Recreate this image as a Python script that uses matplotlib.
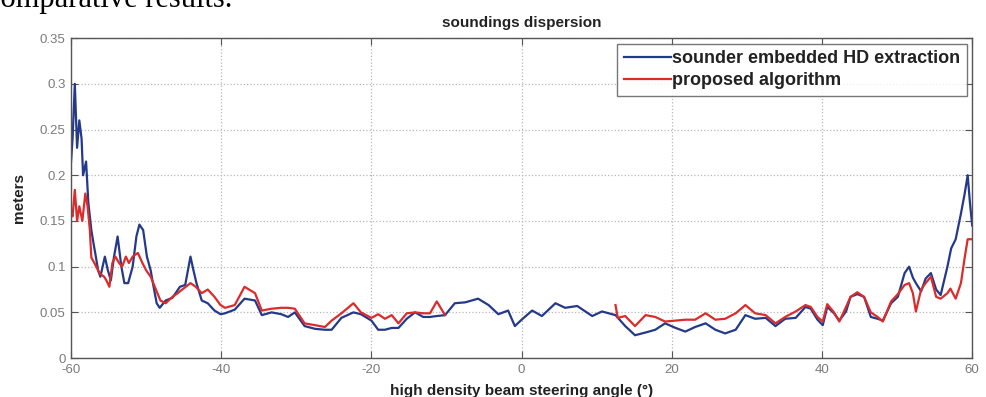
import matplotlib.pyplot as plt
import numpy as np

# beam angle (deg) and dispersion (m) for the sounder's own HD extraction
blue_angle = [-60.0, -59.8, -59.5, -59.2, -58.9, -58.6, -58.4, -58.0, -57.7, -57.3,
              -57.0, -56.7, -56.4, -56.1, -55.8, -55.5, -55.1, -54.7, -54.3, -53.8,
              -53.3, -52.9, -52.4, -51.8, -51.3, -50.9, -50.4, -49.9, -49.4, -49.1,
              -48.6, -48.2, -47.4, -46.5, -45.5, -44.8, -44.1, -43.7, -43.3, -42.6,
              -41.8, -40.9, -40.1, -39.5, -38.2, -36.9, -35.5, -34.6, -33.3, -32.0,
              -31.1, -30.2, -28.9, -27.5, -26.2, -25.3, -24.0, -22.4, -21.4, -20.0,
              -19.1, -18.2, -17.3, -16.4, -15.3, -14.2, -13.1, -12.2, -11.3, -10.2,
              -8.9, -7.5, -5.8, -4.4, -3.1, -1.8, -0.9, 0.0, 1.4, 2.7,
              4.5, 5.8, 7.4, 8.3, 9.4, 10.7, 12.5, 13.8, 15.1, 16.5,
              17.8, 19.1, 20.5, 21.8, 23.1, 24.5, 25.8, 27.1, 28.5, 29.8,
              31.1, 32.5, 33.8, 35.1, 36.5, 37.8, 38.5, 39.4, 40.1, 40.7,
              41.6, 42.3, 43.2, 43.8, 44.7, 45.6, 46.5, 47.4, 48.1, 49.2,
              50.1, 51.0, 51.6, 52.1, 52.5, 53.2, 53.8, 54.5, 55.2, 55.8,
              56.7, 57.2, 57.8, 58.5, 59.0, 59.4, 59.7, 60.0]
blue_disp = [0.215, 0.240, 0.300, 0.230, 0.260, 0.240, 0.200, 0.215, 0.170, 0.140,
             0.125, 0.111, 0.096, 0.089, 0.100, 0.111, 0.096, 0.085, 0.110, 0.133,
             0.100, 0.082, 0.082, 0.100, 0.133, 0.146, 0.140, 0.111, 0.096, 0.082,
             0.060, 0.055, 0.063, 0.066, 0.078, 0.080, 0.111, 0.096, 0.082, 0.063,
             0.060, 0.052, 0.048, 0.049, 0.053, 0.065, 0.063, 0.047, 0.050, 0.048,
             0.045, 0.050, 0.035, 0.032, 0.031, 0.031, 0.044, 0.050, 0.048, 0.041,
             0.031, 0.031, 0.033, 0.033, 0.043, 0.050, 0.045, 0.045, 0.046, 0.047,
             0.060, 0.061, 0.065, 0.058, 0.048, 0.052, 0.035, 0.042, 0.052, 0.046,
             0.060, 0.055, 0.057, 0.052, 0.046, 0.051, 0.047, 0.035, 0.025, 0.028,
             0.031, 0.038, 0.033, 0.029, 0.034, 0.038, 0.031, 0.027, 0.031, 0.047,
             0.043, 0.044, 0.035, 0.043, 0.044, 0.056, 0.054, 0.042, 0.036, 0.056,
             0.049, 0.041, 0.051, 0.067, 0.070, 0.067, 0.045, 0.043, 0.041, 0.060,
             0.067, 0.093, 0.100, 0.088, 0.082, 0.073, 0.087, 0.093, 0.075, 0.069,
             0.100, 0.120, 0.130, 0.158, 0.180, 0.200, 0.170, 0.145]

# proposed algorithm; no separate output near nadir (nan gap)
red_angle = [-60.0, -59.8, -59.5, -59.2, -58.9, -58.5, -58.1, -57.8, -57.5, -57.3,
             -56.9, -56.4, -56.1, -55.6, -55.3, -54.9, -54.5, -54.1, -53.6, -53.2,
             -52.7, -52.3, -51.8, -51.1, -50.5, -50.0, -49.4, -48.7, -48.1, -47.4,
             -46.5, -45.8, -45.2, -44.1, -43.4, -42.6, -41.8, -40.9, -40.1, -39.5,
             -38.2, -36.9, -35.5, -34.6, -33.3, -32.0, -31.1, -30.2, -28.9, -27.5,
             -26.2, -25.3, -24.0, -22.4, -21.4, -20.0, -19.1, -18.2, -17.3, -16.4,
             -15.3, -14.2, -13.1, -12.2, -11.3, -10.2, 0.0,
             12.5, 12.8, 13.8, 15.1, 16.5, 17.8, 19.1, 20.5, 21.8, 23.1,
             24.5, 25.8, 27.1, 28.5, 29.8, 31.1, 32.5, 33.8, 35.1, 36.5,
             37.8, 38.5, 39.4, 40.1, 40.7, 41.6, 42.3, 43.2, 43.8, 44.7,
             45.6, 46.5, 47.4, 48.1, 49.2, 50.1, 51.0, 51.6, 52.1, 52.5,
             53.2, 53.8, 54.5, 55.2, 55.8, 56.7, 57.1, 57.8, 58.5, 59.0,
             59.4, 60.0]
red_disp = [0.159, 0.155, 0.184, 0.150, 0.166, 0.150, 0.180, 0.166, 0.140, 0.110,
            0.104, 0.096, 0.092, 0.089, 0.085, 0.078, 0.104, 0.111, 0.104, 0.100,
            0.111, 0.104, 0.111, 0.115, 0.104, 0.096, 0.089, 0.075, 0.063, 0.060,
            0.067, 0.071, 0.075, 0.082, 0.078, 0.071, 0.075, 0.067, 0.058, 0.055,
            0.058, 0.078, 0.071, 0.052, 0.054, 0.055, 0.055, 0.054, 0.038, 0.036,
            0.034, 0.041, 0.049, 0.060, 0.050, 0.044, 0.048, 0.043, 0.047, 0.038,
            0.049, 0.050, 0.049, 0.049, 0.062, 0.047, np.nan,
            0.058, 0.044, 0.046, 0.035, 0.047, 0.045, 0.040, 0.041, 0.042, 0.042,
            0.049, 0.042, 0.043, 0.049, 0.058, 0.049, 0.047, 0.038, 0.045, 0.051,
            0.058, 0.056, 0.045, 0.040, 0.059, 0.050, 0.040, 0.056, 0.067, 0.072,
            0.067, 0.050, 0.045, 0.040, 0.062, 0.070, 0.080, 0.082, 0.071, 0.051,
            0.075, 0.082, 0.089, 0.067, 0.065, 0.071, 0.076, 0.065, 0.082, 0.110,
            0.130, 0.130]

x_ticks = [-60, -40, -20, 0, 20, 40, 60]
y_ticks = [0, 0.05, 0.1, 0.15, 0.2, 0.25, 0.3, 0.35]
y_tick_labels = ['0', '0.05', '0.1', '0.15', '0.2', '0.25', '0.3', '0.35']

plt.rcParams['font.family'] = ['Liberation Sans', 'DejaVu Sans']
plt.rcParams['axes.unicode_minus'] = False

fig = plt.figure(figsize=(9.87, 3.97), dpi=100)
ax = fig.add_axes([0.072, 0.098, 0.913, 0.806])

# caption line of the page, cut by the top edge
fig.text(-0.013, 0.982, 'comparative results.', family='Liberation Serif',
         fontsize=22, color='black', va='baseline', ha='left')

ax.plot(blue_angle, blue_disp, color='#24398a', lw=1.6,
        label='sounder embedded HD extraction')
ax.plot(red_angle, red_disp, color='#dc2b2b', lw=1.6,
        label='proposed algorithm')

ax.set_xlim(-60, 60)
ax.set_ylim(0, 0.35)
ax.set_xticks(x_ticks)
ax.set_yticks(y_ticks)
ax.set_yticklabels(y_tick_labels)
ax.tick_params(direction='in', top=True, right=True, length=5,
               colors='#555555', labelcolor='#7a7a7a', labelsize=9.5, pad=4)
ax.grid(True, linestyle=':', color='#b8b8b8', lw=0.9)
for s in ax.spines.values():
    s.set_color('#555555')
    s.set_linewidth(1.0)

ax.set_title('soundings dispersion', fontsize=11, fontweight='bold',
             color='#222222', pad=8)
ax.set_xlabel('high density beam steering angle (\u00b0)', fontsize=11,
              fontweight='bold', color='#222222', labelpad=6)
ax.set_ylabel('meters', fontsize=11, fontweight='bold', color='#222222',
              labelpad=10)

leg = ax.legend(loc='upper right', fontsize=13, frameon=True, fancybox=False,
                edgecolor='#555555', handlelength=2.6, handletextpad=0.1,
                borderaxespad=0.3, borderpad=0.35, labelspacing=0.3)
leg.get_frame().set_linewidth(1.0)
for t in leg.get_texts():
    t.set_fontweight('bold')
    t.set_color('#222222')

fig.savefig('out.png', dpi=100)
